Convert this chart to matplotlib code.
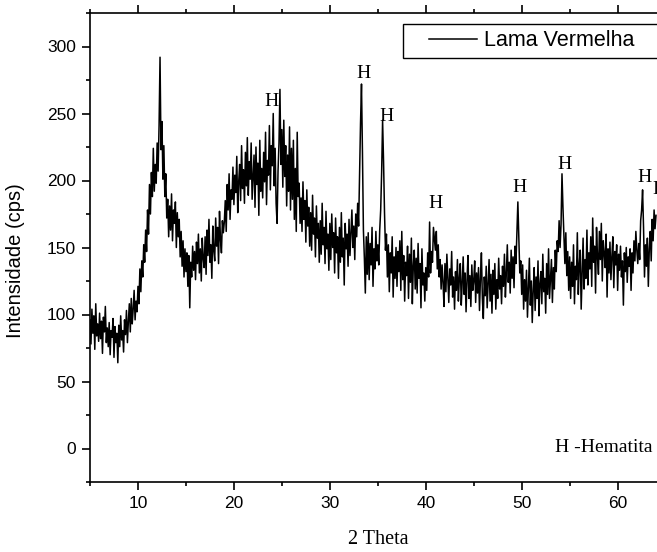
import numpy as np
import matplotlib
matplotlib.use("Agg")
import matplotlib.pyplot as plt
from matplotlib.ticker import MultipleLocator
from matplotlib.legend_handler import HandlerLine2D

# Difratograma da lama vermelha (2 Theta de 5 a 64, passo 0.1)
theta_inicio = 5.0
theta_passo = 0.1

intensidade = [
    96, 78, 104, 86, 99, 74, 108, 84, 93, 80,       # 5
    101, 82, 95, 71, 98, 87, 106, 79, 90, 76,       # 6
    94, 70, 88, 83, 97, 68, 91, 79, 86, 64,         # 7
    92, 76, 99, 81, 88, 72, 96, 85, 103, 79,        # 8
    95, 108, 87, 112, 93, 104, 118, 96, 110, 102,   # 9
    121, 108, 134, 117, 140, 128, 152, 139, 163, 147,  # 10
    178, 160, 197, 175, 206, 188, 224, 192, 212, 198,  # 11
    228, 207, 241, 292, 223, 244, 201, 226, 188, 205,  # 12
    172, 186, 158, 181, 163, 190, 155, 178, 168, 184,  # 13
    150, 176, 158, 171, 143, 162, 136, 155, 128, 149,  # 14
    132, 146, 121, 144, 105, 139, 128, 151, 133, 147,  # 15
    126, 154, 138, 160, 131, 149, 125, 157, 142, 135,  # 16
    158, 130, 163, 144, 171, 139, 152, 127, 166, 148,  # 17
    140, 172, 151, 165, 138, 177, 156, 146, 170, 161,  # 18
    169, 185, 162, 197, 178, 205, 171, 193, 186, 210,  # 19
    182, 204, 191, 218, 176, 199, 212, 185, 226, 194,  # 20
    208, 183, 221, 196, 232, 189, 214, 201, 228, 186,  # 21
    203, 219, 180, 225, 197, 213, 174, 230, 192, 209,  # 22
    187, 221, 199, 236, 182, 215, 204, 241, 193, 226,  # 23
    211, 250, 196, 224, 183, 168, 207, 228, 268, 212,  # 24
    238, 195, 245, 203, 226, 181, 219, 192, 240, 178,  # 25
    224, 186, 230, 171, 209, 162, 236, 188, 198, 168,  # 26
    187, 162, 199, 171, 185, 154, 193, 166, 180, 151,  # 27
    176, 148, 189, 160, 172, 143, 181, 157, 168, 139,  # 28
    170, 145, 183, 152, 165, 138, 177, 149, 160, 133,  # 29
    168, 141, 175, 150, 161, 131, 172, 146, 158, 127,  # 30
    165, 139, 176, 143, 157, 122, 168, 149, 160, 136,  # 31
    171, 144, 162, 178, 150, 166, 141, 175, 158, 183,  # 32
    166, 204, 243, 272, 221, 163, 142, 116, 158, 130,  # 33
    161, 126, 153, 137, 165, 121, 149, 134, 162, 140,  # 34
    152, 137, 163, 178, 206, 245, 214, 176, 148, 160,  # 35
    128, 152, 117, 146, 131, 158, 113, 143, 127, 150,  # 36
    121, 147, 132, 155, 118, 162, 126, 144, 110, 139,  # 37
    129, 151, 112, 145, 124, 157, 108, 136, 148, 119,  # 38
    142, 116, 153, 127, 138, 105, 149, 122, 131, 110,  # 39
    135, 118, 146, 128, 169, 131, 147, 139, 165, 156,  # 40
    148, 162, 134, 152, 128, 141, 119, 137, 124, 106,  # 41
    138, 117, 145, 126, 109, 134, 122, 147, 113, 128,  # 42
    104, 132, 118, 141, 110, 127, 138, 107, 124, 143,  # 43
    115, 131, 102, 126, 144, 112, 129, 106, 137, 118,  # 44
    125, 140, 109, 131, 116, 135, 103, 127, 146, 112,  # 45
    97, 128, 114, 136, 105, 123, 141, 110, 130, 101,   # 46
    133, 115, 138, 104, 126, 112, 142, 119, 129, 108,  # 47
    136, 121, 145, 113, 131, 152, 124, 139, 116, 148,  # 48
    127, 143, 120, 151, 138, 160, 184, 158, 131, 140,  # 49
    115, 137, 104, 126, 110, 133, 98, 121, 142, 107,   # 50
    125, 94, 118, 135, 103, 128, 112, 140, 99, 123,    # 51
    132, 108, 145, 117, 127, 101, 138, 115, 149, 112,  # 52
    126, 141, 109, 135, 119, 148, 132, 155, 147, 170,  # 53
    150, 167, 205, 180, 158, 138, 161, 129, 147, 118,  # 54
    143, 112, 139, 121, 152, 108, 136, 126, 161, 115,  # 55
    137, 148, 104, 131, 157, 119, 141, 127, 163, 122,  # 56
    146, 134, 158, 121, 172, 139, 151, 116, 165, 143,  # 57
    130, 162, 141, 168, 125, 155, 146, 135, 160, 113,  # 58
    149, 131, 154, 126, 143, 158, 120, 147, 137, 152,  # 59
    118, 145, 133, 151, 128, 140, 107, 146, 132, 150,  # 60
    124, 143, 136, 149, 118, 146, 131, 155, 140, 162,  # 61
    148, 138, 153, 141, 170, 178, 193, 165, 128, 152,  # 62
    136, 157, 121, 149, 162, 140, 171, 155, 178, 164,  # 63
    174,                                               # 64
]

# picos de hematita (posicao do rotulo)
picos_x = [23.9, 33.5, 35.9, 41.05, 49.75, 54.5, 62.85, 64.4]
picos_y = [259, 280, 248, 183, 195, 212, 202, 193]

two_theta = theta_inicio + theta_passo * np.arange(len(intensidade))

fig = plt.figure(figsize=(6.57, 5.52), dpi=100)
ax = fig.add_axes([90 / 657, 70 / 552, 575.6 / 657, 469 / 552])

ax.plot(two_theta, intensidade, color="black", lw=1.1, label="Lama Vermelha")

ax.set_xlim(5, 65)
ax.set_ylim(-25, 325)
ax.xaxis.set_major_locator(MultipleLocator(10))
ax.xaxis.set_minor_locator(MultipleLocator(5))
ax.yaxis.set_major_locator(MultipleLocator(50))
ax.yaxis.set_minor_locator(MultipleLocator(25))
ax.tick_params(which="both", direction="out", top=True, right=True, width=1.2)
ax.tick_params(which="major", length=6, labelsize=12.5, pad=4)
ax.tick_params(which="minor", length=3)
for lab in ax.get_xticklabels() + ax.get_yticklabels():
    lab.set_family("Liberation Sans")
for s in ax.spines.values():
    s.set_linewidth(1.2)

ax.set_xlabel("2 Theta", family="Liberation Serif", fontsize=14.5, labelpad=14)
ax.set_ylabel("Intensidade (cps)", family="Liberation Sans", fontsize=14.5)
ax.yaxis.set_label_coords(-0.113, 0.473)

for x, y in zip(picos_x, picos_y):
    ax.text(x, y, "H", family="Liberation Serif", fontsize=14, ha="center", va="center")
ax.text(53.47, 1, "H -Hematita", family="Liberation Serif", fontsize=14, ha="left", va="center")

# caixa da legenda vai alem da borda direita, como no original
leg = ax.legend(loc="upper left", bbox_to_anchor=(0.5438, 0.8, 0.5, 0.1765),
                mode="expand", borderaxespad=0,
                fancybox=False, edgecolor="black", framealpha=1,
                prop={"family": "Liberation Sans", "size": 15.5},
                handlelength=3.14, handletextpad=0.3, borderpad=0.3,
                handler_map={plt.Line2D: HandlerLine2D(xpad=0.9)})
leg.get_frame().set_linewidth(1.0)

fig.savefig("out.png", dpi=100)
